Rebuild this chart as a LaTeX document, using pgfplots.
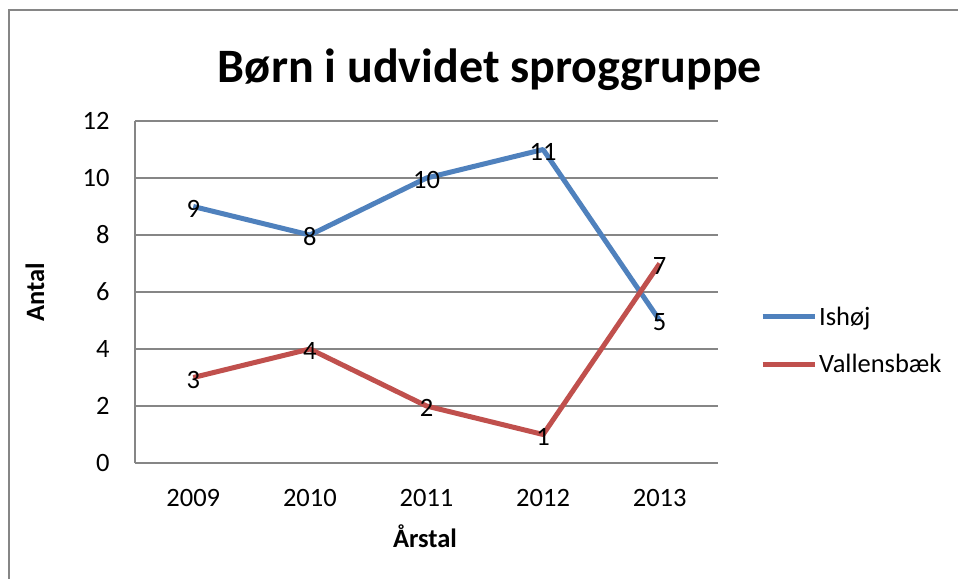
\documentclass[border=0pt]{standalone}
\usepackage{fontspec}
\setmainfont{Carlito}
\usepackage{pgfplots}
\pgfplotsset{compat=1.18}
\definecolor{ishoj}{HTML}{4F81BD}
\definecolor{vallens}{HTML}{C0504D}
\definecolor{gridgray}{HTML}{868686}
\newcommand{\lblfont}{\fontsize{26.5}{31}\selectfont}
\begin{document}
\begin{tikzpicture}
\useasboundingbox (0,0) rectangle (958pt,579pt);
\fill[white] (0,0) rectangle (958pt,579pt);
\draw[gridgray, line width=2pt] (958pt,569pt) -- (9pt,569pt) -- (9pt,0pt);
\begin{axis}[
  at={(135pt,116pt)}, anchor=south west,
  scale only axis, width=583pt, height=342pt,
  xmin=-0.5, xmax=4.5, ymin=0, ymax=12,
  xtick={0,1,2,3,4}, xticklabels={2009,2010,2011,2012,2013},
  ytick={0,2,4,6,8,10,12},
  axis lines=left, axis line style={-, gridgray, line width=1.3pt},
  ymajorgrids, grid style={gridgray, line width=1.3pt},
  major tick length=0pt,
  /pgf/number format/assume math mode=true,
  tick label style={font=\lblfont},
  x tick label style={yshift=-23pt},
  y tick label style={xshift=-22pt},
  clip=false,
  nodes near coords={\pgfmathprintnumber{\pgfplotspointmeta}},
  every node near coord/.append style={anchor=center, font=\lblfont, black, yshift=-2pt},
  legend style={at={(1,0.358)}, anchor=west, xshift=42pt, draw=none, fill=none,
    inner sep=0pt, font=\lblfont, row sep=24pt,
    cells={anchor=west}},
  legend image code/.code={\draw[#1] (0pt,0pt) -- (52pt,0pt);},
]
\addplot[ishoj, line width=5pt, line join=round] coordinates {(0,9) (1,8) (2,10) (3,11) (4,5)};
\addplot[vallens, line width=5pt, line join=round] coordinates {(0,3) (1,4) (2,2) (3,1) (4,7)};
\legend{Ishøj, Vallensbæk}
\end{axis}
\node[font=\bfseries\fontsize{48}{56}\selectfont] at (490pt,509pt) {Børn i udvidet sproggruppe};
\node[font=\bfseries\lblfont, rotate=90] at (35pt,287pt) {Antal};
\node[font=\bfseries\lblfont] at (425pt,43pt) {Årstal};
\end{tikzpicture}
\end{document}
